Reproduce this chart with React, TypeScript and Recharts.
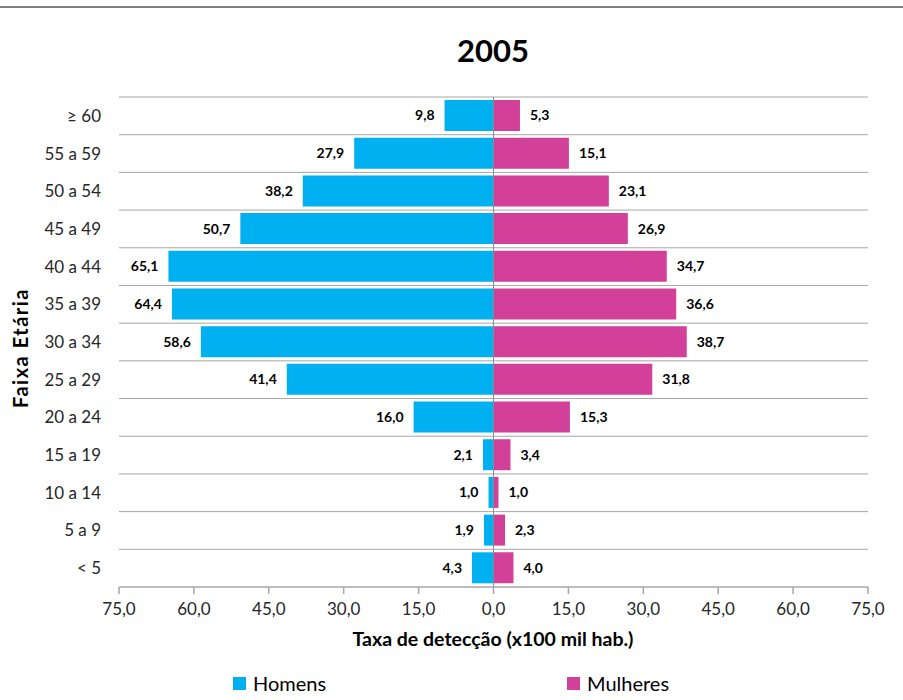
import { BarChart, Bar, XAxis, YAxis, CartesianGrid, ReferenceLine, LabelList } from 'recharts';

const faixas = ['≥ 60', '55 a 59', '50 a 54', '45 a 49', '40 a 44', '35 a 39', '30 a 34', '25 a 29', '20 a 24', '15 a 19', '10 a 14', '5 a 9', '< 5'];
const homens = [9.8, 27.9, 38.2, 50.7, 65.1, 64.4, 58.6, 41.4, 16.0, 2.1, 1.0, 1.9, 4.3];
const mulheres = [5.3, 15.1, 23.1, 26.9, 34.7, 36.6, 38.7, 31.8, 15.3, 3.4, 1.0, 2.3, 4.0];
const xTicks = [-75, -60, -45, -30, -15, 0, 15, 30, 45, 60, 75];

const BLUE = '#00B0F0';
const PINK = '#D2409A';
const FONT = 'Lato, "Open Sans", sans-serif';

// men go to the left as negative values
const chartData = faixas.map((faixa, i) => ({
  faixa,
  homens: -homens[i],
  mulheres: mulheres[i],
}));

const fmt = (v: any) => Math.abs(Number(v)).toFixed(1).replace('.', ',');

// x tick text sits a bit lower than the default one
const XTick = ({ x, y, payload }: any) => (
  <text x={x} y={y + 21} textAnchor="middle" fill="#262626" fontSize={17} fontFamily={FONT}>
    {fmt(payload.value)}
  </text>
);

export default function App() {
  return (
    <div style={{ position: 'absolute', left: 0, top: 0, width: 903, height: 700, background: '#fff', fontFamily: FONT }}>
      <div style={{ position: 'absolute', left: 0, top: 6, width: 903, height: 2, background: '#808080' }} />
      <div style={{ position: 'absolute', left: 0, top: 31, width: 986, textAlign: 'center', fontSize: 31, fontWeight: 700, color: '#000' }}>
        2005
      </div>

      <BarChart
        width={903}
        height={700}
        data={chartData}
        layout="vertical"
        stackOffset="sign"
        margin={{ top: 97, right: 35, left: 0, bottom: 83 }}
        style={{ position: 'absolute', left: 0, top: 0 }}
      >
        <CartesianGrid
          vertical={false}
          stroke="#A6A6A6"
          horizontalCoordinatesGenerator={({ offset }: any) =>
            faixas.map((_, i) => offset.top + (i * offset.height) / faixas.length)
          }
        />
        <XAxis
          type="number"
          domain={[-75, 75]}
          ticks={xTicks}
          height={30}
          stroke="#A6A6A6"
          strokeWidth={1.5}
          tickSize={7}
          tickMargin={0}
          tick={<XTick />}
        />
        <YAxis
          type="category"
          dataKey="faixa"
          width={119}
          axisLine={false}
          tickLine={false}
          tickSize={0}
          tickMargin={18}
          tick={{ fill: '#262626', fontSize: 17, fontFamily: FONT }}
        />
        {/* for the negative bar, "right" puts the label past the bar end */}
        <Bar dataKey="homens" stackId="a" fill={BLUE} barSize={31} isAnimationActive={false}>
          <LabelList dataKey="homens" position="right" offset={10} formatter={fmt} fill="#000" fontSize={14} fontWeight={700} fontFamily={FONT} />
        </Bar>
        <Bar dataKey="mulheres" stackId="a" fill={PINK} barSize={31} isAnimationActive={false}>
          <LabelList dataKey="mulheres" position="right" offset={10} formatter={fmt} fill="#000" fontSize={14} fontWeight={700} fontFamily={FONT} />
        </Bar>
        <ReferenceLine x={0} stroke="#8C8C8C" strokeWidth={1} />
      </BarChart>

      <div
        style={{
          position: 'absolute',
          left: 20,
          top: 348,
          transform: 'translate(-50%, -50%) rotate(-90deg)',
          whiteSpace: 'nowrap',
          fontSize: 20,
          fontWeight: 700,
          letterSpacing: 1.5,
          color: '#000',
        }}
      >
        Faixa Etária
      </div>
      <div style={{ position: 'absolute', left: 0, top: 627, width: 986, textAlign: 'center', fontSize: 19.5, fontWeight: 700, color: '#000' }}>
        Taxa de detecção (x100 mil hab.)
      </div>

      {/* legend */}
      <div style={{ position: 'absolute', left: 233, top: 671, display: 'flex', alignItems: 'center', fontSize: 20, color: '#000' }}>
        <span style={{ width: 13, height: 13, background: BLUE, marginRight: 7, display: 'inline-block' }} />
        Homens
      </div>
      <div style={{ position: 'absolute', left: 567, top: 671, display: 'flex', alignItems: 'center', fontSize: 20, color: '#000' }}>
        <span style={{ width: 13, height: 13, background: PINK, marginRight: 7, display: 'inline-block' }} />
        Mulheres
      </div>
    </div>
  );
}
